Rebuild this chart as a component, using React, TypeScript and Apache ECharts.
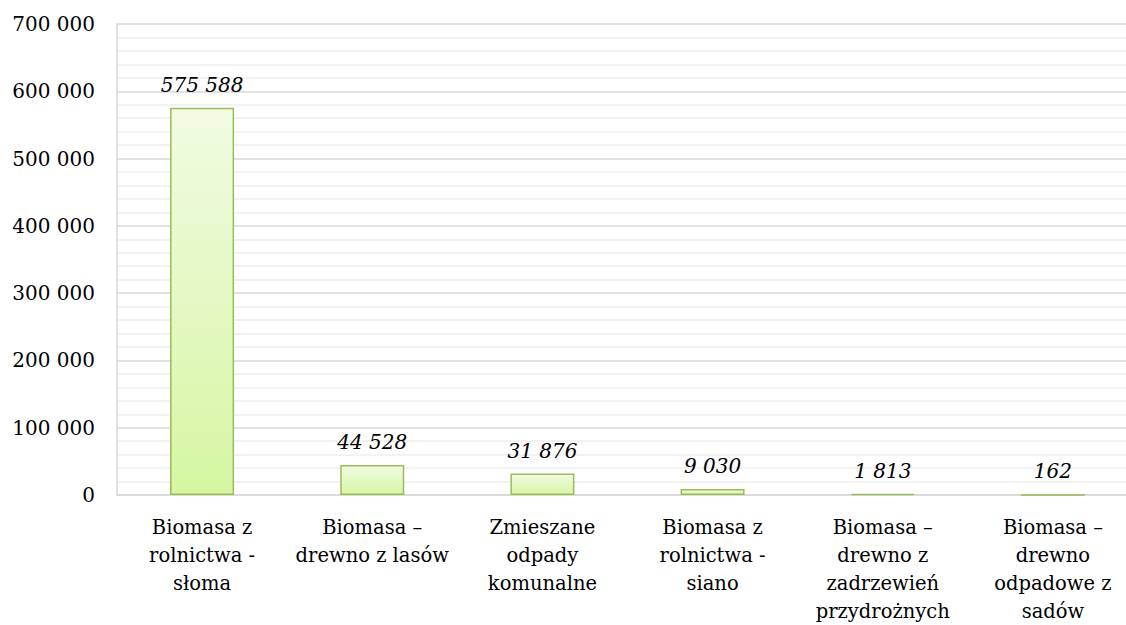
import React, { useEffect, useRef } from "react";
import * as echarts from "echarts";

const categories = [
  "Biomasa z\nrolnictwa -\nsłoma",
  "Biomasa –\ndrewno z lasów",
  "Zmieszane\nodpady\nkomunalne",
  "Biomasa z\nrolnictwa -\nsiano",
  "Biomasa –\ndrewno z\nzadrzewień\nprzydrożnych",
  "Biomasa –\ndrewno\nodpadowe z\nsadów",
];
const values = [575588, 44528, 31876, 9030, 1813, 162];

const fmt = (v: number) => String(Math.round(v)).replace(/\B(?=(\d{3})+(?!\d))/g, " ");

const FONT = "'DejaVu Serif', serif";

export default function App() {
  const ref = useRef<HTMLDivElement>(null);
  useEffect(() => {
    const chart = echarts.init(ref.current!, null, { renderer: "svg" });
    chart.setOption({
      animation: false,
      grid: { left: 117, top: 24, width: 1021, height: 476, containLabel: false },
      xAxis: {
        type: "category",
        data: categories,
        axisLine: { show: true, lineStyle: { color: "#d9d9d9", width: 1.5 } },
        axisTick: { show: false },
        axisLabel: {
          interval: 0,
          margin: 18,
          fontFamily: FONT,
          fontSize: 19.5,
          lineHeight: 28,
          color: "#000",
        },
      },
      yAxis: {
        type: "value",
        min: 0,
        max: 700000,
        interval: 100000,
        axisLine: { show: true, lineStyle: { color: "#d9d9d9", width: 1.5 } },
        axisTick: { show: false },
        axisLabel: {
          margin: 22,
          fontFamily: FONT,
          fontSize: 20,
          color: "#000",
          formatter: (v: number) => fmt(v),
        },
        splitLine: { show: true, lineStyle: { color: "#d9d9d9", width: 1.5 } },
        minorTick: { show: false, splitNumber: 5 },
        minorSplitLine: { show: true, lineStyle: { color: "#eeeeee", width: 1.5 } },
      },
      series: [
        {
          type: "bar",
          data: values,
          barWidth: 64,
          itemStyle: {
            color: new echarts.graphic.LinearGradient(0, 0, 0, 1, [
              { offset: 0, color: "#f1fbe3" },
              { offset: 1, color: "#d6f6a2" },
            ]),
            borderColor: "#9bbb59",
            borderWidth: 1.5,
          },
          label: {
            show: true,
            position: "top",
            distance: 13,
            fontFamily: FONT,
            fontStyle: "italic",
            fontSize: 20,
            color: "#000",
            formatter: (p: any) => fmt(p.value),
          },
        },
      ],
    });
    return () => chart.dispose();
  }, []);
  return (
    <div style={{ position: "absolute", left: 0, top: 0, width: 1126, height: 625, overflow: "hidden" }}>
      <div ref={ref} style={{ width: 1140, height: 625 }} />
    </div>
  );
}
